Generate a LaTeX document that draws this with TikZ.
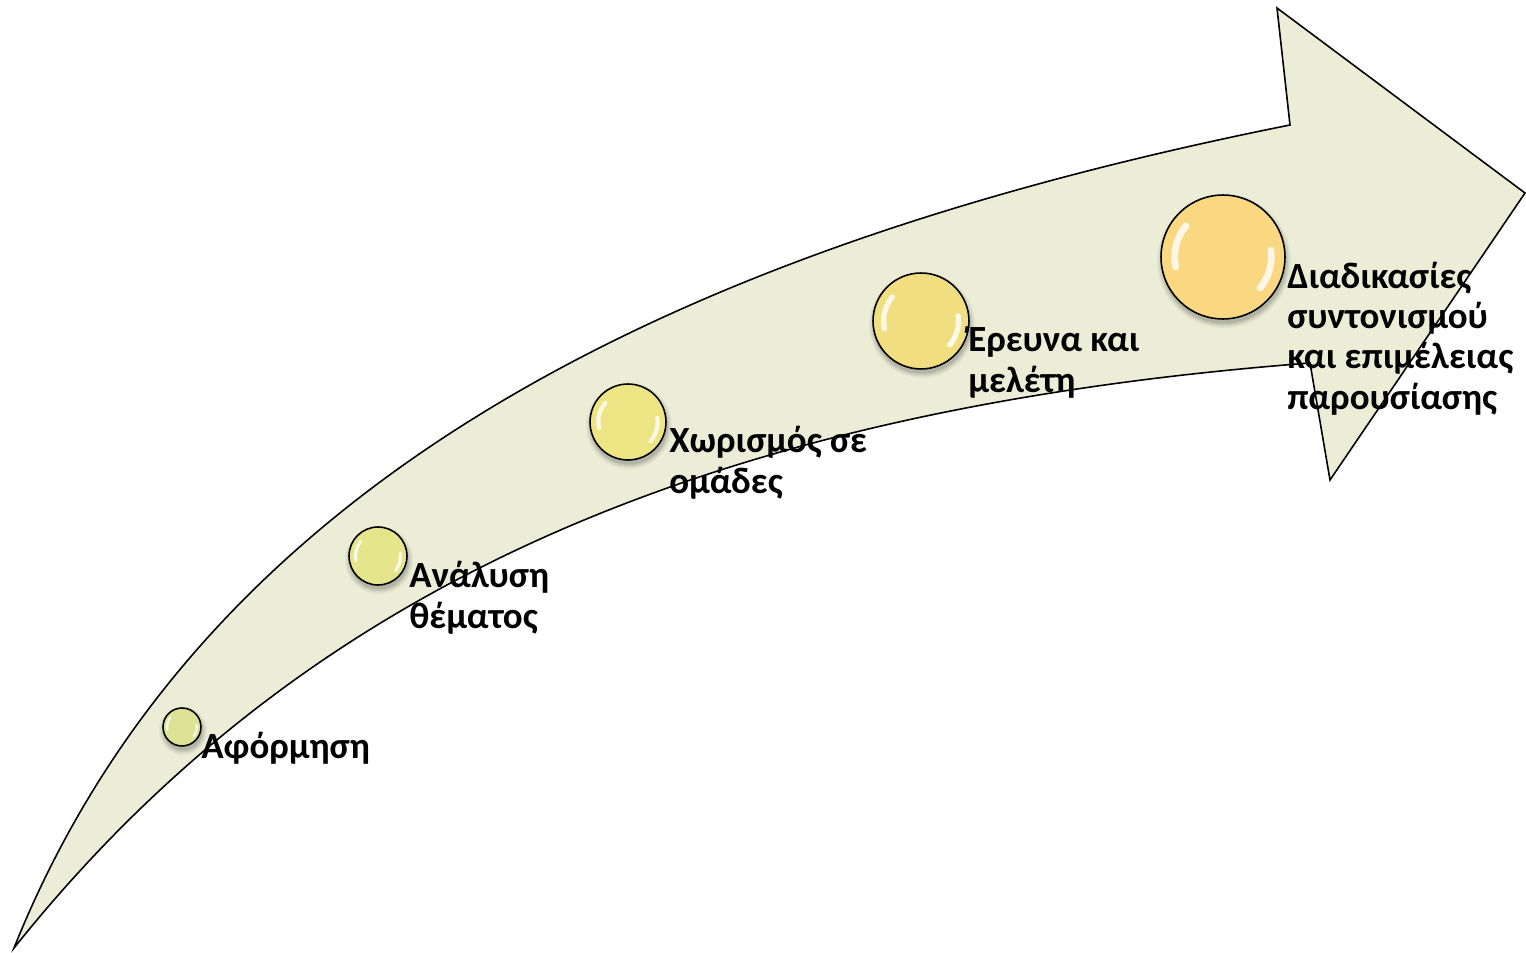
\documentclass[tikz,border=0pt]{standalone}
\usepackage{fontspec}
\setmainfont{Carlito}
\definecolor{band}{RGB}{235,237,215}
\definecolor{cA}{RGB}{222,226,150}
\definecolor{cB}{RGB}{229,229,140}
\definecolor{cC}{RGB}{237,229,132}
\definecolor{cD}{RGB}{241,222,128}
\definecolor{cE}{RGB}{250,216,130}
\newcommand\bubble[5]{%
  \foreach \k/\o in {5/0.04,3.5/0.05,2/0.07,0.5/0.09}{\fill[black,opacity=\o] (#2+1,#3+4) circle ({#4+\k});}%
  \node[bub, fill=#5, minimum size={0.04cm*#4}] (#1) at (#2,#3) {};%
  \draw[white, opacity=0.8, line width={0.0022cm*#4}, line cap=round]
    ([shift={(140:{0.0156cm*#4})}]#1.center) arc[start angle=140, end angle=192, radius={0.0156cm*#4}];%
  \draw[white, opacity=0.8, line width={0.0022cm*#4}, line cap=round]
    ([shift={(-40:{0.0156cm*#4})}]#1.center) arc[start angle=-40, end angle=8, radius={0.0156cm*#4}];%
}
\begin{document}
\begin{tikzpicture}[x=0.02cm,y=-0.02cm,
  bub/.style={circle, draw=black, line width=0.9pt, inner sep=0pt},
  lab/.style={font=\bfseries\fontsize{21}{22.8}\selectfont, anchor=base west, inner sep=0pt, align=left}]
\useasboundingbox (0,0) rectangle (1526,953);
% band arrow
\coordinate (tail) at (14,948);
\coordinate (nu) at (1290,125);
\coordinate (hu) at (1277,8);
\coordinate (tip) at (1525,193);
\coordinate (hl) at (1330,480);
\coordinate (nl) at (1310,363);
\path[fill=band, draw=black, line width=0.9pt, line join=miter]
  (tail) .. controls (204,473) and (690,245) .. (nu)
  -- (hu) -- (tip) -- (hl) -- (nl)
  .. controls (700,410) and (300,590) .. (tail) -- cycle;
% bubbles
\bubble{b1}{182}{727}{19}{cA}
\bubble{b2}{378}{556}{29}{cB}
\bubble{b3}{628}{422}{38}{cC}
\bubble{b4}{921}{321}{48}{cD}
\bubble{b5}{1223}{257}{62}{cE}
% labels
\node[lab] (t1) at (201,758) {Αφόρμηση};
\node[lab] (t2) at (409,628) {Ανάλυση\\θέματος};
\node[lab] (t3) at (669,493) {Χωρισμός σε\\ομάδες};
\node[lab] (t4) at (968,392) {Έρευνα και\\μελέτη};
\node[lab] (t5) at (1287,409) {Διαδικασίες\\συντονισμού\\και επιμέλειας\\παρουσίασης};
\end{tikzpicture}
\end{document}
